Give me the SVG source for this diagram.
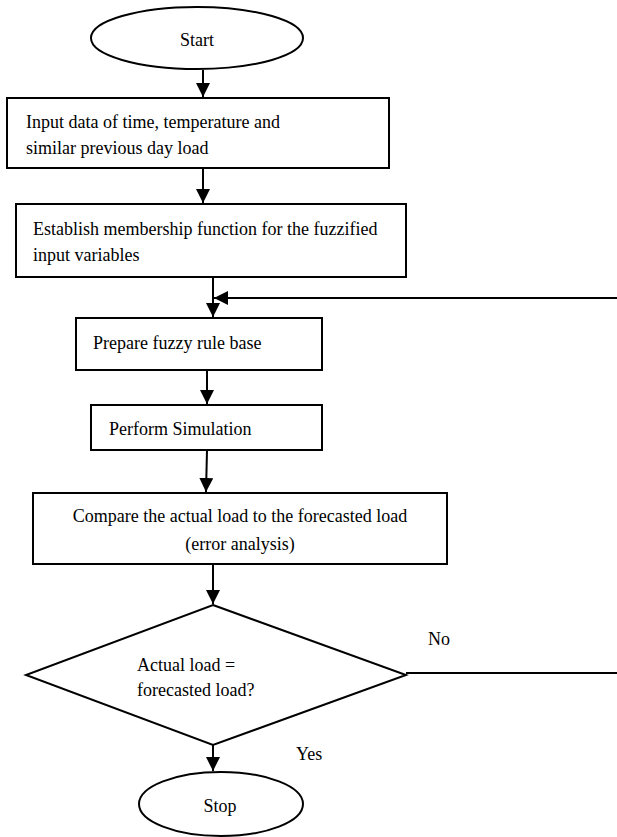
<svg xmlns="http://www.w3.org/2000/svg" width="617" height="837" viewBox="0 0 617 837">
<style>
.s{fill:#fff;stroke:#000;stroke-width:2}
.t{font-family:"Liberation Serif","Times New Roman",serif;font-size:18px;fill:#000}
.c{fill:none;stroke:#000;stroke-width:2}
</style>
<defs>
<marker id="ah" markerWidth="14" markerHeight="14" refX="14" refY="7" orient="auto" markerUnits="userSpaceOnUse">
<path d="M0,0 L14,7 L0,14 Z" fill="#000"/>
</marker>
</defs>
<rect width="617" height="837" fill="#fff"/>
<g id="connectors">
<line class="c" x1="203" y1="70" x2="203" y2="97" marker-end="url(#ah)"/>
<line class="c" x1="203" y1="168" x2="203" y2="203" marker-end="url(#ah)"/>
<line class="c" x1="213" y1="277" x2="213" y2="317" marker-end="url(#ah)"/>
<line class="c" x1="617" y1="298" x2="214" y2="298" marker-end="url(#ah)"/>
<line class="c" x1="207" y1="370" x2="207" y2="404" marker-end="url(#ah)"/>
<line class="c" x1="207" y1="450" x2="206" y2="492" marker-end="url(#ah)"/>
<line class="c" x1="213" y1="558" x2="213" y2="604" marker-end="url(#ah)"/>
<line class="c" x1="406" y1="673" x2="617" y2="673"/>
<line class="c" x1="213" y1="745" x2="213" y2="771" marker-end="url(#ah)"/>
<text class="t" x="428" y="645">No</text>
<text class="t" x="296" y="760">Yes</text>
</g>
<g id="start">
<ellipse class="s" cx="197" cy="38" rx="106" ry="31"/>
<text class="t" x="197" y="46" text-anchor="middle">Start</text>
</g>
<g id="input">
<rect class="s" x="7" y="98" width="382" height="70"/>
<text class="t" x="26" y="128">Input data of time, temperature and</text>
<text class="t" x="26" y="154">similar previous day load</text>
</g>
<g id="membership">
<rect class="s" x="16" y="204" width="390" height="73"/>
<text class="t" x="33" y="235">Establish membership function for the fuzzified</text>
<text class="t" x="33" y="261">input variables</text>
</g>
<g id="rulebase">
<rect class="s" x="76" y="318" width="246" height="52"/>
<text class="t" x="93" y="349">Prepare fuzzy rule base</text>
</g>
<g id="simulation">
<rect class="s" x="91" y="405" width="231" height="45"/>
<text class="t" x="109" y="435">Perform Simulation</text>
</g>
<g id="compare">
<rect class="s" x="33" y="493" width="414" height="71"/>
<text class="t" x="240" y="522" text-anchor="middle">Compare the actual load to the forecasted load</text>
<text class="t" x="240" y="550" text-anchor="middle">(error analysis)</text>
</g>
<g id="decision">
<polygon class="s" points="213,605 406,675 213,745 26,675"/>
<text class="t" x="137" y="671">Actual load =</text>
<text class="t" x="137" y="696">forecasted load?</text>
</g>
<g id="stop">
<ellipse class="s" cx="221" cy="804" rx="82" ry="32"/>
<text class="t" x="220" y="812" text-anchor="middle">Stop</text>
</g>
</svg>
